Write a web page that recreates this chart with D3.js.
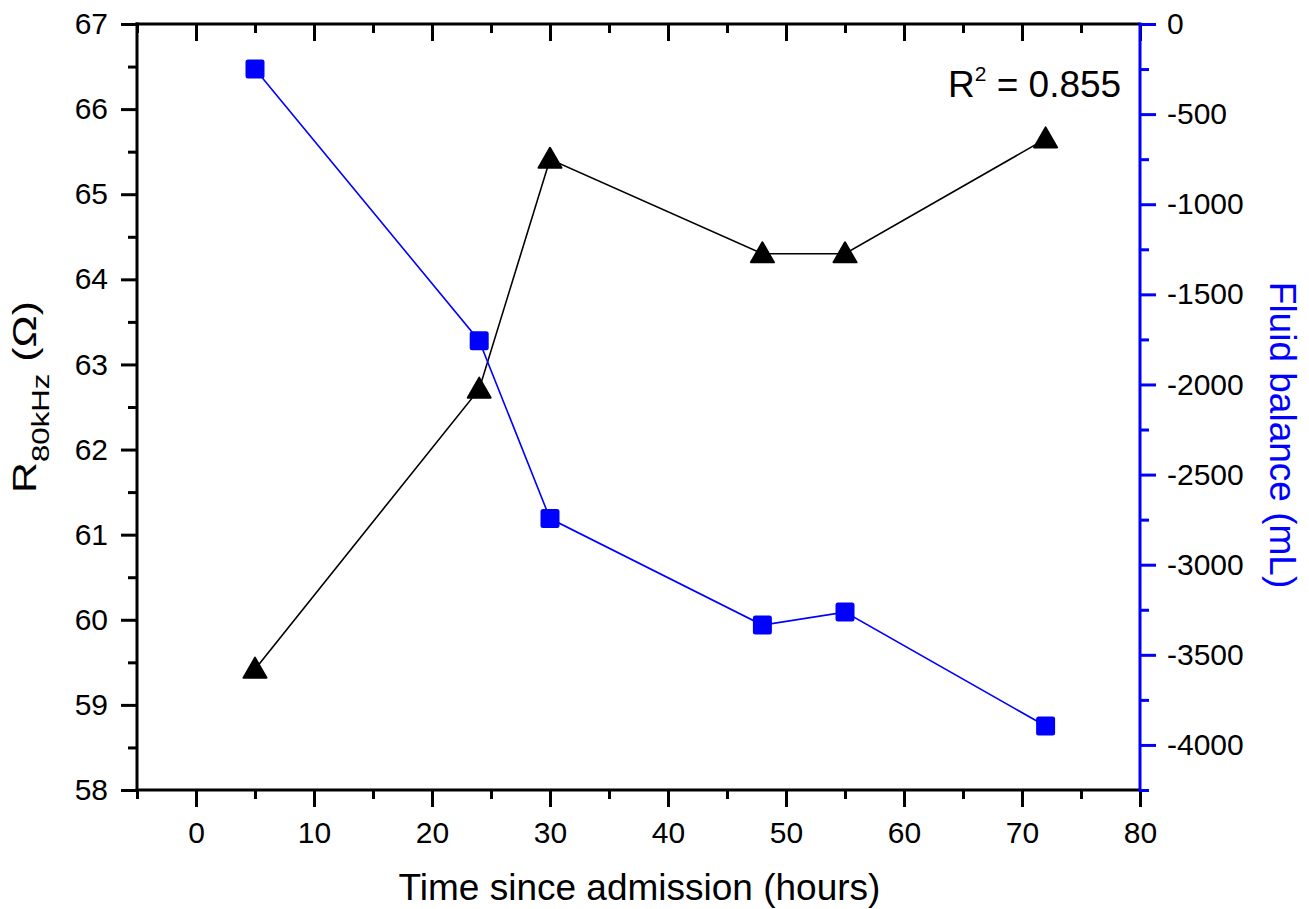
<!DOCTYPE html>
<html>
<head>
<meta charset="utf-8">
<script src="https://cdn.jsdelivr.net/npm/d3@7"></script>
<style>
body { margin: 0; background: #fff; }
svg text { font-family: "Liberation Sans", Arial, sans-serif; }
</style>
</head>
<body>
<svg></svg>
<script>
// hours since admission
var hours = [5, 24, 30, 48, 55, 72];
// resistance at 80 kHz (ohm)
var resistance = [59.42, 62.71, 65.41, 64.3, 64.3, 65.65];
// fluid balance (mL)
var fluid = [-250, -1757, -2744, -3335, -3263, -3895];

var xTicks = [0, 10, 20, 30, 40, 50, 60, 70, 80];
var leftTicks = [58, 59, 60, 61, 62, 63, 64, 65, 66, 67];
var rightTicks = [0, -500, -1000, -1500, -2000, -2500, -3000, -3500, -4000];

function chart() {
    var width = 1309,
        height = 909;
    var left = 137, right = 1140, top = 24, bottom = 790;
    var fs = 30;

    var x = d3.scaleLinear().domain([-5, 80]).range([left, right]);
    var yL = d3.scaleLinear().domain([58, 67]).range([bottom, top]);
    var yR = d3.scaleLinear().domain([-4250, 0]).range([bottom, top]);

    var svg = d3.select("svg")
        .attr("width", width)
        .attr("height", height);

    svg.selectAll("*").remove();

    function styleAxis(g, color) {
        g.attr("font-size", fs);
        g.selectAll(".domain").remove();
        g.selectAll(".tick line").attr("stroke", color).attr("stroke-width", 3);
        g.selectAll(".tick text").attr("fill", "#000").attr("font-size", fs);
    }
    var plain = function(d) { return String(d); };

    // minor ticks
    var xMinor = d3.range(-5, 81, 5).filter(function(v) { return v % 10 !== 0; });
    var lMinor = d3.range(58.5, 67, 1);
    var rMinor = d3.range(-250, -4251, -500);

    // bottom axis
    svg.append("g").attr("transform", "translate(0," + bottom + ")")
        .call(d3.axisBottom(x).tickValues(xTicks).tickSize(17).tickPadding(15).tickFormat(plain))
        .call(styleAxis, "#000");
    svg.append("g").attr("transform", "translate(0," + bottom + ")")
        .call(d3.axisBottom(x).tickValues(xMinor).tickSize(9).tickFormat(""))
        .call(styleAxis, "#000");

    // top axis, ticks pointing inward
    svg.append("g").attr("transform", "translate(0," + top + ")")
        .call(d3.axisBottom(x).tickValues(xTicks).tickSize(17).tickFormat(""))
        .call(styleAxis, "#000");
    svg.append("g").attr("transform", "translate(0," + top + ")")
        .call(d3.axisBottom(x).tickValues(xMinor).tickSize(9).tickFormat(""))
        .call(styleAxis, "#000");

    // left axis
    svg.append("g").attr("transform", "translate(" + left + ",0)")
        .call(d3.axisLeft(yL).tickValues(leftTicks).tickSize(16).tickPadding(13).tickFormat(plain))
        .call(styleAxis, "#000");
    svg.append("g").attr("transform", "translate(" + left + ",0)")
        .call(d3.axisLeft(yL).tickValues(lMinor).tickSize(9).tickFormat(""))
        .call(styleAxis, "#000");

    // right axis (blue)
    svg.append("g").attr("transform", "translate(" + right + ",0)")
        .call(d3.axisRight(yR).tickValues(rightTicks).tickSize(16).tickPadding(11).tickFormat(plain))
        .call(styleAxis, "#0000ff");
    svg.append("g").attr("transform", "translate(" + right + ",0)")
        .call(d3.axisRight(yR).tickValues(rMinor).tickSize(9).tickFormat(""))
        .call(styleAxis, "#0000ff");

    // frame lines
    svg.append("line").attr("x1", left - 1.5).attr("x2", right).attr("y1", bottom).attr("y2", bottom)
        .attr("stroke", "#000").attr("stroke-width", 3);
    svg.append("line").attr("x1", left - 1.5).attr("x2", right).attr("y1", top).attr("y2", top)
        .attr("stroke", "#000").attr("stroke-width", 3);
    svg.append("line").attr("x1", left).attr("x2", left).attr("y1", top - 1.5).attr("y2", bottom + 1.5)
        .attr("stroke", "#000").attr("stroke-width", 3);
    svg.append("line").attr("x1", right).attr("x2", right).attr("y1", top - 1.5).attr("y2", bottom + 1.5)
        .attr("stroke", "#0000ff").attr("stroke-width", 3);

    var data = hours.map(function(h, i) { return {h: h, r: resistance[i], f: fluid[i]}; });

    // resistance series
    svg.append("path").datum(data)
        .attr("fill", "none").attr("stroke", "#000").attr("stroke-width", 1.6)
        .attr("d", d3.line().x(function(d) { return x(d.h); }).y(function(d) { return yL(d.r); }));
    svg.selectAll(".tri").data(data).enter().append("path")
        .attr("class", "tri")
        .attr("transform", function(d) { return "translate(" + x(d.h) + "," + (yL(d.r) - 1) + ")"; })
        .attr("d", "M0,-10.5 L11.5,9.5 L-11.5,9.5 Z")
        .attr("fill", "#000").attr("stroke", "#000").attr("stroke-width", 2).attr("stroke-linejoin", "round");

    // fluid balance series
    svg.append("path").datum(data)
        .attr("fill", "none").attr("stroke", "#0000ff").attr("stroke-width", 1.6)
        .attr("d", d3.line().x(function(d) { return x(d.h); }).y(function(d) { return yR(d.f); }));
    svg.selectAll(".sq").data(data).enter().append("rect")
        .attr("class", "sq")
        .attr("x", function(d) { return x(d.h) - 9.5; })
        .attr("y", function(d) { return yR(d.f) - 9.5; })
        .attr("width", 19).attr("height", 19).attr("rx", 2.5)
        .attr("fill", "#0000ff");

    // axis titles
    svg.append("text")
        .attr("x", (left + right) / 2 + 1).attr("y", 900)
        .attr("text-anchor", "middle").attr("font-size", 37)
        .text("Time since admission (hours)");

    // left title, a little stretched along its reading direction like the original
    var yt = svg.append("text")
        .attr("transform", "translate(36,397) rotate(-90) scale(1.3,1)")
        .attr("text-anchor", "middle").attr("font-size", 33);
    yt.append("tspan").text("R");
    yt.append("tspan").attr("font-size", 24).attr("dy", 13).text("80kHz");
    yt.append("tspan").attr("dy", -13).text(" (\u03A9)");

    svg.append("text")
        .attr("transform", "translate(1270,435) rotate(90)")
        .attr("text-anchor", "middle").attr("font-size", 37)
        .attr("fill", "#0000ff")
        .text("Fluid balance (mL)");

    // annotation
    var ann = svg.append("text")
        .attr("x", 948).attr("y", 97)
        .attr("font-size", 37);
    ann.append("tspan").text("R");
    ann.append("tspan").attr("font-size", 21).attr("dy", -16).text("2");
    ann.append("tspan").attr("dy", 16).text(" = 0.855");
}

chart();
</script>
</body>
</html>
